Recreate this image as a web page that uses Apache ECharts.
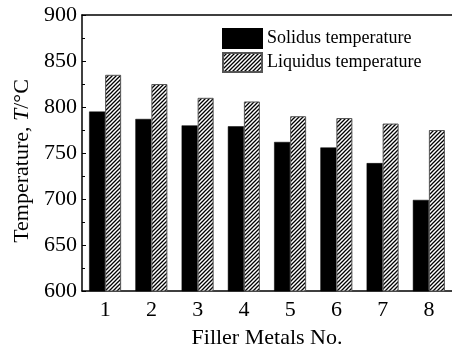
<!DOCTYPE html>
<html><head><meta charset="utf-8">
<script src="https://cdn.jsdelivr.net/npm/echarts@6/dist/echarts.min.js"></script>
<style>html,body{margin:0;padding:0;background:#fff}#c{width:452px;height:349px}</style>
</head><body><div id="c"></div>
<script>
const categories = ['1','2','3','4','5','6','7','8'];
const solidus = [795, 787, 780, 779, 762, 756, 739, 699];
const liquidus = [835, 825, 810, 806, 790, 788, 782, 775];
const seriesNames = ['Solidus temperature', 'Liquidus temperature'];

function hatch() {
  const s = 4;
  const c = document.createElement('canvas');
  c.width = s; c.height = s;
  const g = c.getContext('2d');
  g.fillStyle = '#fff'; g.fillRect(0, 0, s, s);
  g.strokeStyle = '#000'; g.lineWidth = 1.3;
  g.beginPath();
  g.moveTo(0, s); g.lineTo(s, 0);
  g.moveTo(-1, 1); g.lineTo(1, -1);
  g.moveTo(s - 1, s + 1); g.lineTo(s + 1, s - 1);
  g.stroke();
  return c;
}
const font = 'Liberation Serif';
const chart = echarts.init(document.getElementById('c'), null, {renderer: 'canvas'});
chart.setOption({
  animation: false,
  backgroundColor: '#fff',
  grid: {left: 82, right: 0, top: 15, bottom: 58, containLabel: false, outerBoundsMode: 'none'},
  legend: {
    orient: 'vertical', left: 222, top: 28, padding: 0,
    itemWidth: 39, itemHeight: 19, itemGap: 3,
    textStyle: {fontFamily: font, fontSize: 18, color: '#000'},
    data: [{name: seriesNames[0], icon: 'rect'}, {name: seriesNames[1], icon: 'rect'}]
  },
  xAxis: [{
    type: 'category', data: categories, position: 'bottom',
    axisLine: {lineStyle: {color: '#000', width: 1.5}},
    axisTick: {inside: true, length: 3, lineStyle: {color: '#000'}},
    axisLabel: {fontFamily: font, fontSize: 22, color: '#000', margin: 8},
    name: 'Filler Metals No.', nameLocation: 'middle', nameGap: 36,
    nameTextStyle: {fontFamily: font, fontSize: 22, color: '#000'}
  }, {
    type: 'category', data: categories, position: 'top',
    axisLine: {lineStyle: {color: '#000', width: 1.5}},
    axisTick: {inside: true, length: 3, lineStyle: {color: '#000'}},
    axisLabel: {show: false}
  }],
  yAxis: [{
    type: 'value', min: 600, max: 900, interval: 50,
    axisLine: {show: true, lineStyle: {color: '#000', width: 1.5}},
    axisTick: {show: true, inside: true, length: 4, lineStyle: {color: '#000'}},
    minorTick: {show: true, splitNumber: 2, length: 3, lineStyle: {color: '#000'}},
    splitLine: {show: false},
    axisLabel: {fontFamily: font, fontSize: 22, color: '#000', margin: 5},
    name: '{a|Temperature, }{i|T}{a|/°C}', nameLocation: 'middle', nameGap: 42,
    nameTextStyle: {
      fontFamily: font, fontSize: 22, color: '#000', padding: [0, 16, 0, 0],
      rich: {a: {fontFamily: font, fontSize: 22, color: '#000'},
             i: {fontFamily: font, fontSize: 22, color: '#000', fontStyle: 'italic'}}
    }
  }],
  series: [{
    name: seriesNames[0], type: 'bar', data: solidus, barWidth: 16, barGap: '0%',
    itemStyle: {color: '#000', borderColor: '#000', borderWidth: 0.5}
  }, {
    name: seriesNames[1], type: 'bar', data: liquidus, barWidth: 16, barGap: '0%',
    itemStyle: {color: {image: hatch(), repeat: 'repeat'}, borderColor: '#555', borderWidth: 1}
  }]
});
</script></body></html>
